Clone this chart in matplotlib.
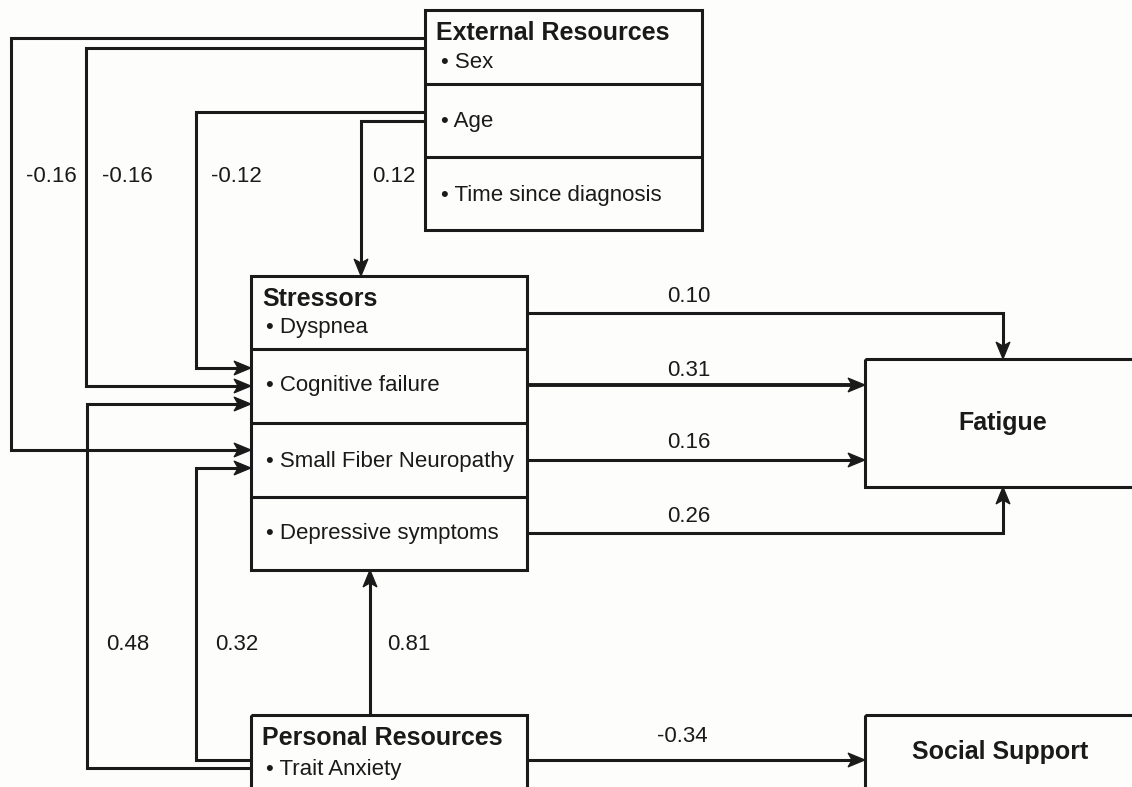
import matplotlib
matplotlib.use("Agg")
import matplotlib.pyplot as plt
from matplotlib.patches import Rectangle, Polygon
import numpy as np

# ---- data ----
ext_title = "External Resources"
ext_items = ["Sex", "Age", "Time since diagnosis"]
stress_title = "Stressors"
stress_items = ["Dyspnea", "Cognitive failure", "Small Fiber Neuropathy", "Depressive symptoms"]
pers_title = "Personal Resources"
pers_items = ["Trait Anxiety"]
fatigue_label = "Fatigue"
social_label = "Social Support"
ext_to_stress = ["-0.16", "-0.16", "-0.12", "0.12"]
stress_to_fatigue = ["0.10", "0.31", "0.16", "0.26"]
pers_to_stress = ["0.48", "0.32", "0.81"]
pers_to_social = ["-0.34"]

plt.rcParams['font.family'] = ['Liberation Sans', 'DejaVu Sans']
W, H = 1132, 787
fig = plt.figure(figsize=(W / 100, H / 100), dpi=100, facecolor="#fdfdfb")
ax = fig.add_axes([0, 0, 1, 1])
ax.set_xlim(0, W)
ax.set_ylim(H, 0)
ax.axis("off")
ax.set_facecolor("#fdfdfb")

LW = 2.2
C = "#1a1a1a"
FS = 16     # regular text
FB = 18     # bold titles


def box(x0, y0, x1, y1, lw=LW):
    ax.add_patch(Rectangle((x0, y0), x1 - x0, y1 - y0, fill=False, ec=C, lw=lw, zorder=3))


def hline(x0, x1, y, lw=LW):
    ax.plot([x0, x1], [y, y], color=C, lw=lw, solid_capstyle="butt", zorder=3)


def head(tip, d, L=17, hw=7, notch=4):
    d = np.array(d, float)
    d /= np.linalg.norm(d)
    n = np.array([-d[1], d[0]])
    tip = np.array(tip, float)
    base = tip - d * L
    pts = [tip, base + n * hw, tip - d * (L - notch), base - n * hw]
    ax.add_patch(Polygon(pts, closed=True, fc=C, ec=C, lw=0.8, zorder=4))


def path_arrow(pts, lw=LW):
    pts = np.array(pts, float)
    d = pts[-1] - pts[-2]
    dn = d / np.linalg.norm(d)
    line = pts.copy()
    line[-1] = pts[-1] - dn * 10
    ax.plot(line[:, 0], line[:, 1], color=C, lw=lw, solid_joinstyle="miter",
            solid_capstyle="butt", zorder=3)
    head(pts[-1], d)


# ---- External Resources box ----
ex0, ex1 = 425, 702
box(ex0, 10, ex1, 230)
hline(ex0, ex1, 84)
hline(ex0, ex1, 157)
ax.text(436, 33, ext_title, fontsize=FB, fontweight="bold", va="center", ha="left", color=C)
ext_y = [63, 122, 195]
for t, y in zip(ext_items, ext_y):
    ax.text(441, y, "\u2022 " + t, fontsize=FS, va="center", ha="left", color=C)

# ---- Stressors box ----
sx0, sx1 = 251, 527
box(sx0, 276, sx1, 570)
for y in [349, 423, 497]:
    hline(sx0, sx1, y)
ax.text(262, 299, stress_title, fontsize=FB, fontweight="bold", va="center", ha="left", color=C)
st_y = [327, 386, 462, 533]
for t, y in zip(stress_items, st_y):
    ax.text(266, y, "\u2022 " + t, fontsize=FS, va="center", ha="left", color=C)

# ---- Fatigue box ----
box(865, 359, 1140, 487)
ax.text(1003, 423, fatigue_label, fontsize=FB, fontweight="bold", va="center", ha="center", color=C)

# ---- Personal Resources box ----
box(sx0, 715, sx1, 800)
ax.text(262, 738, pers_title, fontsize=FB, fontweight="bold", va="center", ha="left", color=C)
ax.text(266, 769, "\u2022 " + pers_items[0], fontsize=FS, va="center", ha="left", color=C)

# ---- Social Support box ----
box(865, 715, 1140, 800)
ax.text(1000, 752, social_label, fontsize=FB, fontweight="bold", va="center", ha="center", color=C)

# ---- External -> Stressors paths ----
path_arrow([(ex0, 38), (11, 38), (11, 450), (sx0, 450)])
path_arrow([(ex0, 48), (86, 48), (86, 386), (sx0, 386)])
path_arrow([(ex0, 112), (196, 112), (196, 368), (sx0, 368)])
path_arrow([(ex0, 121), (361, 121), (361, 276)])
for lab, x in zip(ext_to_stress, [51, 127, 236, 394]):
    ax.text(x, 177, lab, fontsize=FS, va="center", ha="center", color=C)

# ---- Stressors -> Fatigue ----
path_arrow([(sx1, 313), (1003, 313), (1003, 359)])
path_arrow([(sx1, 385), (865, 385)], lw=2.8)
path_arrow([(sx1, 460), (865, 460)])
path_arrow([(sx1, 533), (1003, 533), (1003, 487)])
for lab, y in zip(stress_to_fatigue, [297, 371, 443, 517]):
    ax.text(689, y, lab, fontsize=FS, va="center", ha="center", color=C)

# ---- Personal -> Stressors ----
path_arrow([(sx0, 768), (87, 768), (87, 404), (sx0, 404)])
path_arrow([(sx0, 760), (196, 760), (196, 468), (sx0, 468)])
path_arrow([(370, 715), (370, 570)])
for lab, x in zip(pers_to_stress, [128, 237, 409]):
    ax.text(x, 645, lab, fontsize=FS, va="center", ha="center", color=C)

# ---- Personal -> Social Support ----
path_arrow([(sx1, 760), (865, 760)])
ax.text(682, 737, pers_to_social[0], fontsize=FS, va="center", ha="center", color=C)

fig.savefig("out.png", dpi=100, facecolor=fig.get_facecolor())
